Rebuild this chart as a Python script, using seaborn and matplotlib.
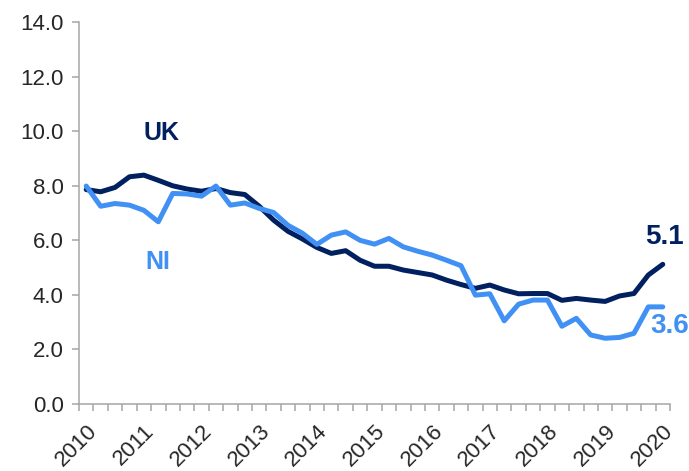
import matplotlib
matplotlib.use("Agg")
import matplotlib.pyplot as plt
import numpy as np
import pandas as pd
import seaborn as sns

# Quarterly unemployment rate (%)
UK_RATE = [7.86, 7.78, 7.94, 8.33, 8.39, 8.20, 8.00, 7.88, 7.80, 7.90,
           7.75, 7.68, 7.25, 6.74, 6.33, 6.05, 5.74, 5.52, 5.62, 5.27,
           5.05, 5.05, 4.91, 4.82, 4.73, 4.54, 4.38, 4.24, 4.36, 4.18,
           4.04, 4.05, 4.05, 3.80, 3.87, 3.81, 3.76, 3.96, 4.05, 4.73,
           5.12]
NI_RATE = [7.99, 7.25, 7.35, 7.29, 7.10, 6.68, 7.72, 7.70, 7.62, 7.99,
           7.29, 7.37, 7.17, 7.02, 6.55, 6.26, 5.85, 6.19, 6.31, 6.00,
           5.86, 6.07, 5.76, 5.60, 5.46, 5.27, 5.07, 3.99, 4.04, 3.05,
           3.66, 3.81, 3.81, 2.85, 3.14, 2.53, 2.41, 2.44, 2.59, 3.56,
           3.56]
YEAR_LABELS = [str(y) for y in range(2010, 2021)]
SERIES = ["UK", "NI"]
COLORS = {"UK": "#002060", "NI": "#4191F5"}

n = len(UK_RATE)
df = pd.DataFrame({
    "quarter": list(range(n)) * 2,
    "rate": UK_RATE + NI_RATE,
    "region": ["UK"] * n + ["NI"] * n,
})

sns.set_style("white")
plt.rcParams["font.family"] = ["Liberation Sans", "DejaVu Sans"]

fig = plt.figure(figsize=(6.89, 4.71), dpi=100)
ax = fig.add_axes([0.1147, 0.1423, 0.8577, 0.8107])

sns.lineplot(data=df, x="quarter", y="rate", hue="region", hue_order=SERIES,
             palette=COLORS, linewidth=3.6, legend=False, ax=ax)
for line in ax.lines:
    line.set_solid_joinstyle("round")
    line.set_solid_capstyle("round")

ax.set_xlim(-0.5, n - 0.5)
ax.set_ylim(0, 14)
ax.set_yticks(np.arange(0, 14.1, 2))
ax.set_yticklabels([f"{v:.1f}" for v in np.arange(0, 14.1, 2)], fontsize=16)

ax.set_xticks(range(0, n, 4))
ax.set_xticklabels(YEAR_LABELS, fontsize=16, rotation=45, ha="right",
                   va="top", rotation_mode="anchor")
ax.set_xticks(np.arange(-0.5, n, 1), minor=True)
ax.tick_params(axis="x", which="major", length=0, pad=12)
ax.tick_params(axis="x", which="minor", length=5, width=1.1,
               color="#A6A6A6", direction="out", bottom=True)
ax.tick_params(axis="y", length=5, width=1.1, color="#A6A6A6",
               direction="out", left=True, pad=6)

ax.set_xlabel("")
ax.set_ylabel("")
for side in ["top", "right"]:
    ax.spines[side].set_visible(False)
for side in ["left", "bottom"]:
    ax.spines[side].set_color("#A6A6A6")
    ax.spines[side].set_linewidth(1.1)

# series labels and end values
ax.text(5.2, 9.93, "UK", color=COLORS["UK"], fontsize=18,
        fontweight="bold", ha="center", va="center")
ax.text(5.0, 5.2, "NI", color=COLORS["NI"], fontsize=18,
        fontweight="bold", ha="center", va="center")
ax.text(n - 1 + 0.1, UK_RATE[-1] + 1.02, f"{UK_RATE[-1]:.1f}",
        color=COLORS["UK"], fontsize=20, fontweight="bold",
        ha="center", va="center", clip_on=False)
ax.text(n - 1 + 0.5, NI_RATE[-1] - 0.7, f"{NI_RATE[-1]:.1f}",
        color=COLORS["NI"], fontsize=20, fontweight="bold",
        ha="center", va="center", clip_on=False)

fig.savefig("out.png", dpi=100)
